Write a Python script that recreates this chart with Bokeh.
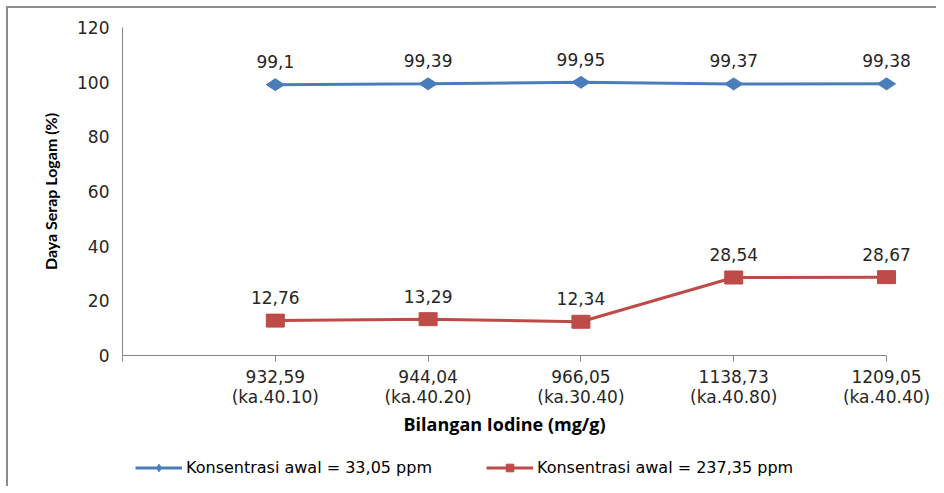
import numpy as np
from bokeh.plotting import figure
from bokeh.layouts import column
from bokeh.models import (ColumnDataSource, FixedTicker, Range1d, Legend, LegendItem,
                          LinearAxis, Label)
from bokeh.core.properties import value
from bokeh.embed import file_html
from bokeh.resources import INLINE

# ---- data ----
iodine = ["932,59", "944,04", "966,05", "1138,73", "1209,05"]
samples = ["(ka.40.10)", "(ka.40.20)", "(ka.30.40)", "(ka.40.80)", "(ka.40.40)"]
series1_name = "Konsentrasi awal = 33,05 ppm"
series1 = [99.1, 99.39, 99.95, 99.37, 99.38]
series2_name = "Konsentrasi awal = 237,35 ppm"
series2 = [12.76, 13.29, 12.34, 28.54, 28.67]
y_ticks = [0, 20, 40, 60, 80, 100, 120]
y_title = "Daya Serap Logam (%)"
x_title = "Bilangan Iodine (mg/g)"

xs = list(range(1, len(iodine) + 1))

def fmt(v):
    return f"{v:g}".replace(".", ",")

src1 = ColumnDataSource(dict(x=xs, y=series1, lab=[fmt(v) for v in series1]))
src2 = ColumnDataSource(dict(x=xs, y=series2, lab=[fmt(v) for v in series2]))

BLUE = "#4A7EBB"
RED = "#BE4B48"
AXIS = "#868686"
TXT = "#262626"

xr = Range1d(0, 5.327)
p = figure(width=928, height=402, output_backend="svg", toolbar_location=None,
           x_range=xr, y_range=Range1d(0, 120),
           min_border_left=114, min_border_right=0, min_border_top=19,
           min_border_bottom=55)
p.outline_line_color = None
p.xgrid.visible = False
p.ygrid.visible = False

# x axis: line 1 (iodine number)
xa = p.xaxis[0]
xa.ticker = FixedTicker(ticks=[0] + xs)
xa.bounds = (0, len(iodine))
xa.major_label_overrides = {0: ""} | {i: a for i, a in zip(xs, iodine)}
xa.axis_line_color = AXIS
xa.major_tick_line_color = AXIS
xa.major_tick_out = 6
xa.major_tick_in = 0
xa.minor_tick_line_color = None
xa.major_label_text_font = "DejaVu Sans"
xa.major_label_text_font_size = "17px"
xa.major_label_text_color = TXT
xa.major_label_standoff = 8

# x axis: line 2 (sample code)
xa2 = LinearAxis(ticker=FixedTicker(ticks=xs), bounds=(0, len(iodine)))
xa2.major_label_overrides = {i: b for i, b in zip(xs, samples)}
xa2.axis_line_color = None
xa2.major_tick_line_color = None
xa2.minor_tick_line_color = None
xa2.major_tick_out = 0
xa2.major_tick_in = 0
xa2.major_label_text_font = "DejaVu Sans"
xa2.major_label_text_font_size = "17px"
xa2.major_label_text_color = TXT
xa2.major_label_standoff = 1
p.add_layout(xa2, "below")

ya = p.yaxis[0]
ya.ticker = FixedTicker(ticks=y_ticks)
ya.axis_line_color = AXIS
ya.major_tick_line_color = None
ya.minor_tick_line_color = None
ya.major_label_text_font = "DejaVu Sans"
ya.major_label_text_font_size = "17px"
ya.major_label_text_color = TXT
ya.major_label_standoff = 7
ya.axis_label = y_title
ya.axis_label_text_font = "Lato"
ya.axis_label_text_font_style = "bold"
ya.axis_label_text_font_size = "16px"
ya.axis_label_text_color = "black"
ya.axis_label_standoff = 14

# series
p.line("x", "y", source=src1, line_color=BLUE, line_width=3)
p.scatter("x", "y", source=src1, marker="diamond", size=18, angle=np.pi / 2,
          fill_color=BLUE, line_color=BLUE)
p.line("x", "y", source=src2, line_color=RED, line_width=3)
p.rect("x", "y", source=src2, width=18, height=13, width_units="screen",
       height_units="screen", fill_color=RED, line_color=RED)

for s in (src1, src2):
    p.text("x", "y", text="lab", source=s, text_font=value("DejaVu Sans"),
           text_font_size="17px", text_color=TXT, text_align="center",
           text_baseline="alphabetic", y_offset=-23)

# ---- lower strip: x title and legend ----
p2 = figure(width=928, height=76, output_backend="svg", toolbar_location=None,
            x_range=xr, y_range=Range1d(0, 1), x_axis_location=None,
            y_axis_location=None, min_border_left=114, min_border_right=0,
            min_border_top=0, min_border_bottom=0)
p2.outline_line_color = None
p2.xgrid.visible = False
p2.ygrid.visible = False

p2.add_layout(Label(x=len(iodine) / 2, y=63, x_units="data", y_units="screen",
                    text=x_title, text_font="Open Sans", text_font_style="bold",
                    text_font_size="18px", text_color="black",
                    text_align="center", text_baseline="middle"))

# legend proxies: the same series, which lie outside this strip's (0, 1) range
ll1 = p2.line(x=xs, y=series1, line_color=BLUE, line_width=3)
lm1 = p2.scatter(x=xs, y=series1, marker="diamond", size=13, angle=np.pi / 2,
                 fill_color=BLUE, line_color=BLUE)
ll2 = p2.line(x=xs, y=series2, line_color=RED, line_width=3)
lm2 = p2.scatter(x=xs, y=series2, marker="square", size=12, fill_color=RED,
                 line_color=RED)

legend = Legend(items=[LegendItem(label=series1_name, renderers=[ll1, lm1]),
                       LegendItem(label=series2_name, renderers=[ll2, lm2])],
                orientation="horizontal", location=(13, 9),
                glyph_width=47, glyph_height=19, label_standoff=4, spacing=54,
                padding=0, margin=0, border_line_color=None,
                background_fill_alpha=0, label_text_font="DejaVu Sans",
                label_text_font_size="16px", label_text_color="black")
p2.add_layout(legend, "center")

layout = column(p, p2, spacing=0,
                styles={"position": "relative", "left": "6px", "top": "6px",
                        "border-left": "2px solid #8c8c8c",
                        "border-top": "2px solid #8c8c8c"})

open("out.html", "w").write(file_html(layout, INLINE))
